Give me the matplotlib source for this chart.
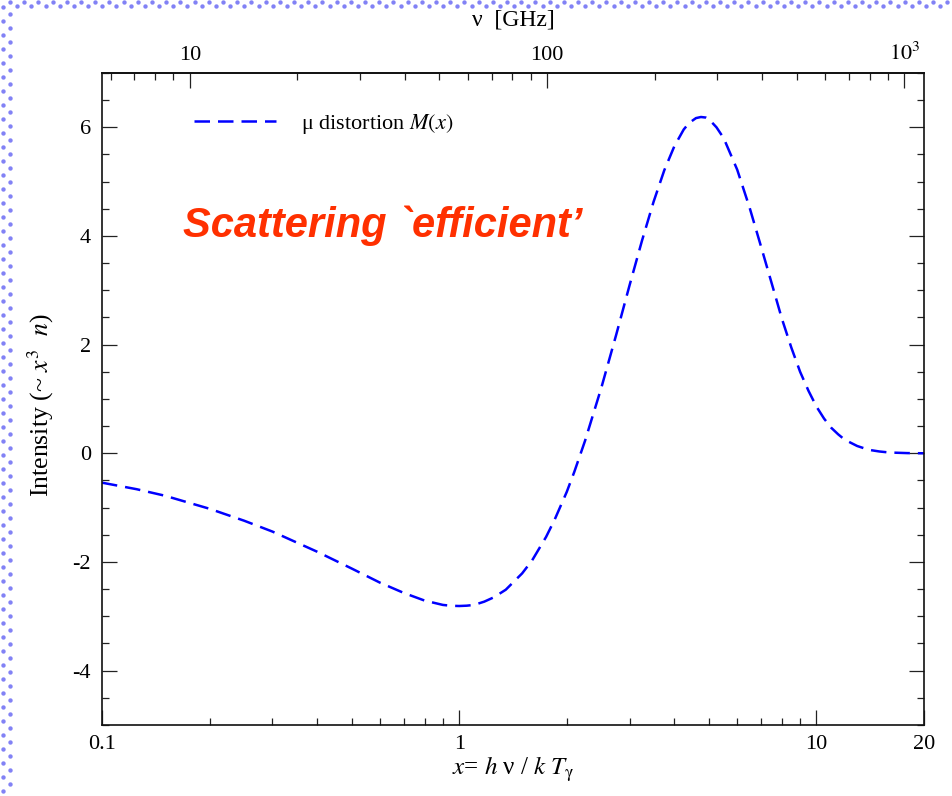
import numpy as np
import matplotlib
matplotlib.use("Agg")
import matplotlib.pyplot as plt
from matplotlib.ticker import FixedLocator, FixedFormatter, MultipleLocator, NullFormatter

plt.rcParams["font.family"] = "serif"
plt.rcParams["font.serif"] = ["Liberation Serif", "DejaVu Serif"]
plt.rcParams["mathtext.fontset"] = "stix"
plt.rcParams["axes.unicode_minus"] = False

# mu-type spectral distortion, intensity ~ x^3 n versus x = h nu / k T
x_vals = [0.1, 0.125, 0.15, 0.2, 0.25, 0.3, 0.4, 0.5, 0.6, 0.7, 0.8, 0.9,
          0.95, 1.0, 1.05, 1.1, 1.175, 1.25, 1.35, 1.5, 1.6, 1.75, 1.85,
          2.0, 2.1, 2.25, 2.5, 2.75, 3.0, 3.25, 3.5, 3.75, 4.0, 4.25, 4.4,
          4.6, 4.75, 4.9, 5.0, 5.25, 5.5, 6.0, 6.5, 7.0, 7.5, 8.0, 8.5,
          9.0, 9.5, 10.0, 10.5, 11.0, 11.5, 12.0, 13.0, 14.0, 15.0, 16.0,
          18.0, 20.0]
mu_vals = [-0.54, -0.66, -0.78, -1.02, -1.24, -1.44, -1.81, -2.12, -2.38,
           -2.57, -2.71, -2.79, -2.806, -2.81, -2.804, -2.79, -2.73, -2.65,
           -2.51, -2.21, -1.97, -1.54, -1.22, -0.71, -0.34, 0.23, 1.21, 2.18,
           3.10, 3.92, 4.63, 5.21, 5.65, 5.96, 6.08, 6.17, 6.19, 6.18, 6.15,
           6.00, 5.80, 5.22, 4.52, 3.80, 3.12, 2.48, 1.95, 1.50, 1.15, 0.86,
           0.64, 0.47, 0.35, 0.25, 0.135, 0.065, 0.034, 0.015, 0.004, 0.001]

x_ticks = [0.1, 1, 10, 20]
x_tick_labels = ["0.1", "1", "10", "20"]
x_minor = [0.2, 0.3, 0.4, 0.5, 0.6, 0.7, 0.8, 0.9, 2, 3, 4, 5, 6, 7, 8, 9]
nu_ticks = [10, 100, 1000]
nu_tick_labels = ["10", "100", "$10^3$"]
nu_minor = [6, 7, 8, 9, 20, 30, 40, 50, 60, 70, 80, 90,
            200, 300, 400, 500, 600, 700, 800, 900]
NU_PER_X = 56.78  # GHz per unit x for T = 2.725 K

fig = plt.figure(figsize=(9.52, 7.96), dpi=100)

# dotted slide border along the top and left edges
bg = fig.add_axes([0, 0, 1, 1], zorder=-5)
bg.set_xlim(0, 952)
bg.set_ylim(796, 0)
bg.axis("off")
dot_kw = dict(s=10, color="#4d4df2", alpha=0.7, linewidths=0)
row = np.arange(10, 952, 14.2)
bg.scatter(row, np.full_like(row, 1.5), **dot_kw)
bg.scatter(row + 7.1, np.full_like(row, 6.0), **dot_kw)
col = np.arange(7, 796, 14.0)
bg.scatter(np.full_like(col, 2.7), col, **dot_kw)
bg.scatter(np.full_like(col, 10.0), col + 7.0, **dot_kw)

ax = fig.add_axes([0.1071, 0.0892, 0.8635, 0.8191])
ax.set_xscale("log")
ax.set_xlim(0.1, 20)
ax.set_ylim(-5, 7)

ax.plot(x_vals, mu_vals, color="#0000ff", lw=1.8, dashes=(6.2, 3.2),
        label="\u03bc distortion $M(x)$")

ax.xaxis.set_major_locator(FixedLocator(x_ticks))
ax.xaxis.set_major_formatter(FixedFormatter(x_tick_labels))
ax.xaxis.set_minor_locator(FixedLocator(x_minor))
ax.xaxis.set_minor_formatter(NullFormatter())
ax.yaxis.set_major_locator(MultipleLocator(2))
ax.yaxis.set_minor_locator(MultipleLocator(0.5))

ax.tick_params(which="both", direction="in", right=True, top=False,
               width=0.9, labelsize=16, color="#222222")
ax.tick_params(which="major", length=11)
ax.tick_params(which="minor", length=5)
ax.tick_params(axis="x", pad=7)
ax.tick_params(axis="y", pad=8)
for sp in ax.spines.values():
    sp.set_linewidth(1.2)
    sp.set_color("#111111")

sec = ax.secondary_xaxis("top", functions=(lambda x: x * NU_PER_X,
                                           lambda n: n / NU_PER_X))
sec.xaxis.set_major_locator(FixedLocator(nu_ticks))
sec.xaxis.set_major_formatter(FixedFormatter(nu_tick_labels))
sec.xaxis.set_minor_locator(FixedLocator(nu_minor))
sec.xaxis.set_minor_formatter(NullFormatter())
sec.tick_params(which="both", direction="in", width=0.9, labelsize=16,
                pad=6, color="#222222")
sec.tick_params(which="major", length=11)
sec.tick_params(which="minor", length=5)
sec.spines["top"].set_linewidth(1.2)
sec.set_xlabel("\u03bd  [GHz]", fontsize=17, labelpad=12)

ax.set_xlabel("$x$= $h$ \u03bd / $k$ $T_{\\mathrm{\\gamma}}$", fontsize=18,
              labelpad=1)
ax.set_ylabel("Intensity (~ $x^{3}$  $n$)", fontsize=18.5)
ax.yaxis.set_label_coords(-0.056, 0.49)

ax.legend(loc="center left", bbox_to_anchor=(0.1014, 0.9218), frameon=False,
          fontsize=16, handlelength=3.7, handletextpad=1.1, borderaxespad=0,
          borderpad=0.4)

ax.text(0.0985, 0.766, "Scattering `efficient\u2019", transform=ax.transAxes,
        ha="left", va="center", fontsize=30, fontweight="bold",
        fontstyle="italic", family=["Liberation Sans", "DejaVu Sans"],
        color="#ff3000")

fig.savefig("out.png", dpi=100)
